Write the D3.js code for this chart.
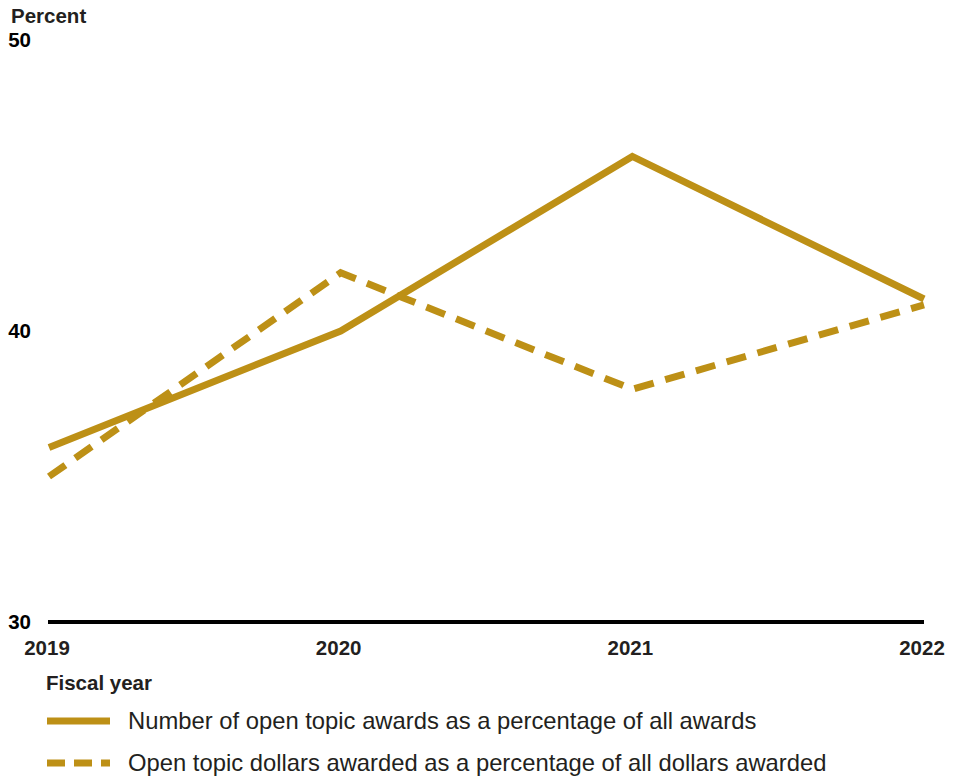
<!DOCTYPE html>
<html><head><meta charset="utf-8">
<script src="https://cdn.jsdelivr.net/npm/d3@7"></script>
<style>body{margin:0;background:#fff;font-family:"Liberation Sans",Arial,sans-serif;}</style>
</head><body><svg id="c" width="965" height="777"></svg>
<script>
const years = [2019, 2020, 2021, 2022];
const awardsPct = [36.0, 40.0, 46.0, 41.1];
const dollarsPct = [35.0, 42.0, 38.0, 40.9];
const yTicks = [30, 40, 50];
const seriesNames = ["Number of open topic awards as a percentage of all awards",
                     "Open topic dollars awarded as a percentage of all dollars awarded"];
const color = "#BD9016";

const svg = d3.select("#c");
const x = d3.scalePoint().domain(years).range([49, 924]);
const y = d3.scaleLinear().domain([30, 50]).range([622, 40]);

svg.append("text").attr("x", 11).attr("y", 23).attr("font-weight", "bold").attr("font-size", 20.5)
  .attr("fill", "#231f20").text("Percent");

svg.selectAll(".yt").data(yTicks).enter().append("text")
  .attr("x", 31).attr("y", d => y(d)).attr("dy", "0.36em").attr("text-anchor", "end")
  .attr("font-weight", "bold").attr("font-size", 20.5).attr("fill", "#000").text(d => d);

svg.selectAll(".xt").data(years).enter().append("text")
  .attr("x", d => x(d) - 2).attr("y", 655).attr("text-anchor", "middle")
  .attr("font-weight", "bold").attr("font-size", 20.5).attr("fill", "#231f20").text(d => d);

svg.append("line").attr("x1", 48).attr("x2", 924).attr("y1", y(30)).attr("y2", y(30))
  .attr("stroke", "#000").attr("stroke-width", 4);

svg.append("text").attr("x", 46).attr("y", 690).attr("font-weight", "bold").attr("font-size", 20.5)
  .attr("fill", "#231f20").text("Fiscal year");

const line = d3.line().x((d, i) => x(years[i])).y(d => y(d));
svg.append("path").datum(awardsPct).attr("d", line).attr("fill", "none")
  .attr("stroke", color).attr("stroke-width", 7).attr("stroke-linejoin", "miter");
svg.append("path").datum(dollarsPct).attr("d", line).attr("fill", "none")
  .attr("stroke", color).attr("stroke-width", 7).attr("stroke-dasharray", "20,12");

const leg = [{y: 721, dash: null}, {y: 763, dash: "18,9"}];
leg.forEach((l, i) => {
  svg.append("line").attr("x1", 47).attr("x2", 110).attr("y1", l.y).attr("y2", l.y)
    .attr("stroke", color).attr("stroke-width", 7).attr("stroke-dasharray", l.dash);
  svg.append("text").attr("x", 128).attr("y", l.y + 8).attr("font-size", 23.8)
    .attr("fill", "#231f20").text(seriesNames[i]);
});
</script></body></html>
